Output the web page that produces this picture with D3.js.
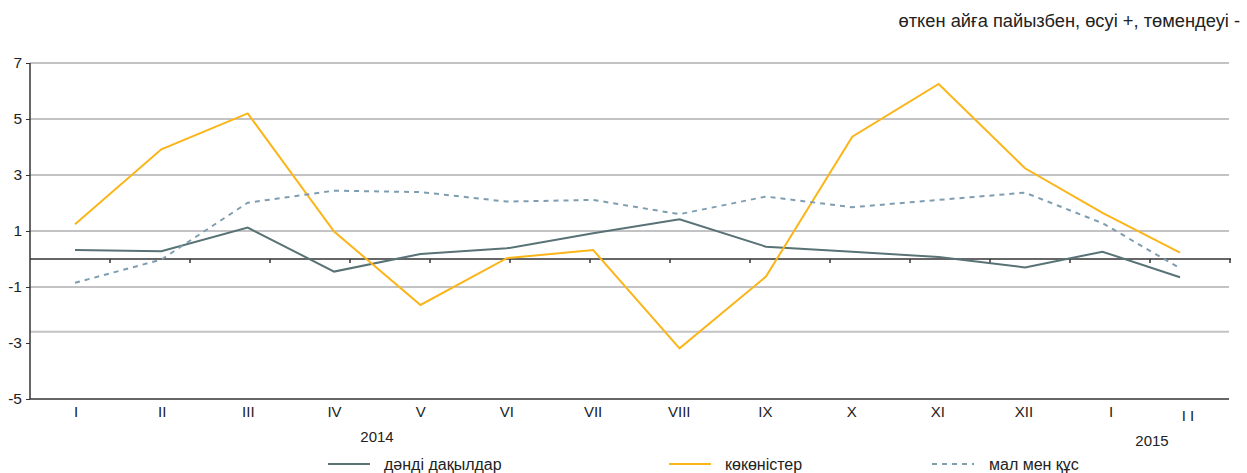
<!DOCTYPE html>
<html>
<head>
<meta charset="utf-8">
<script src="https://cdn.jsdelivr.net/npm/d3@7"></script>
<style>
  body { margin: 0; background: #fff; }
  svg { display: block; font-family: "Liberation Sans", Arial, sans-serif; }
</style>
</head>
<body>
<svg width="1247" height="473"></svg>
<script>
// months, 2014 I .. 2015 II
var months = ['I', 'II', 'III', 'IV', 'V', 'VI', 'VII', 'VIII', 'IX', 'X', 'XI', 'XII', 'I', 'II'];
var grain = [0.32, 0.28, 1.12, -0.45, 0.18, 0.38, 0.92, 1.42, 0.44, 0.26, 0.07, -0.30, 0.26, -0.65];
var veg = [1.24, 3.92, 5.20, 0.98, -1.64, 0.03, 0.32, -3.19, -0.63, 4.37, 6.25, 3.24, 1.65, 0.23];
var cattle = [-0.85, -0.02, 2.01, 2.44, 2.39, 2.05, 2.11, 1.60, 2.23, 1.85, 2.11, 2.37, 1.28, -0.33];
var yTicks = [7, 5, 3, 1, -1, -3, -5];
var gridValues = [7, 5, 3, 1, -1, -2.6];
var seriesNames = ['дәнді дақылдар', 'көкөністер', 'мал мен құс'];

var svg = d3.select('svg');
var left = 30, right = 1229;

var y = d3.scaleLinear().domain([-5, 7]).range([399, 63]);
// the 2015 months sit a little closer together in the source
var x = d3.scaleLinear().domain([0, 11, 13]).range([75, 1025, 1180]);
var xLabel = d3.scaleLinear().domain([0, 11, 12, 13]).range([76, 1024, 1111, 1190]);
var xTick = d3.scaleLinear().domain([0, 15]).range([left, 1230]);

// grid
svg.append('g').selectAll('line')
  .data(gridValues)
  .enter().append('line')
  .attr('x1', left).attr('x2', right)
  .attr('y1', function(d) { return y(d); })
  .attr('y2', function(d) { return y(d); })
  .style('stroke', '#c3c3c6')
  .style('stroke-width', 2);

// left axis
var yAxis = d3.axisLeft(y).tickValues(yTicks).tickSize(4).tickPadding(5)
  .tickFormat(function(d) { return String(d); });
var ga = svg.append('g').attr('transform', 'translate(' + left + ',0)').call(yAxis);
ga.select('.domain').remove();
ga.selectAll('line').style('stroke', '#333');
ga.selectAll('text').style('font-size', '15.5px').style('fill', '#222')
  .attr('x', -8);
svg.append('line').attr('x1', left).attr('x2', left).attr('y1', y(7)).attr('y2', y(-5))
  .style('stroke', '#333').style('stroke-width', 1.5);

// bottom line
svg.append('line').attr('x1', left).attr('x2', right).attr('y1', y(-5)).attr('y2', y(-5))
  .style('stroke', '#333').style('stroke-width', 1.5);

// zero line with ticks
svg.append('line').attr('x1', left).attr('x2', 1231).attr('y1', y(0)).attr('y2', y(0))
  .style('stroke', '#333').style('stroke-width', 1.5);
svg.append('g').selectAll('line')
  .data(d3.range(1, 16))
  .enter().append('line')
  .attr('x1', function(d) { return xTick(d); })
  .attr('x2', function(d) { return xTick(d); })
  .attr('y1', y(0)).attr('y2', y(0) + 4)
  .style('stroke', '#333').style('stroke-width', 1.5);

// month labels
svg.append('g').selectAll('text')
  .data(months)
  .enter().append('text')
  .attr('x', function(d, i) { return xLabel(i); })
  .attr('y', function(d, i) { return i == 13 ? 421 : 417; })
  .attr('text-anchor', 'middle')
  .style('font-size', '15px')
  .style('fill', '#222')
  .style('letter-spacing', function(d, i) { return i == 13 ? '4px' : '0px'; })
  .text(function(d) { return d; });

svg.append('text').attr('x', 377).attr('y', 442).attr('text-anchor', 'middle')
  .style('font-size', '15px').style('fill', '#222').text('2014');
svg.append('text').attr('x', 1152).attr('y', 446).attr('text-anchor', 'middle')
  .style('font-size', '15px').style('fill', '#222').text('2015');

// title
svg.append('text').attr('x', 1240).attr('y', 27).attr('text-anchor', 'end')
  .style('font-size', '18.3px').style('fill', '#222')
  .text('өткен айға пайызбен, өсуі +, төмендеуі -');

// lines
var line = d3.line()
  .x(function(d, i) { return x(i); })
  .y(function(d) { return y(d); });

var styles = [
  { data: grain, color: '#587276', dash: null },
  { data: veg, color: '#fbb519', dash: null },
  { data: cattle, color: '#7f9db0', dash: '5,5' }
];

svg.append('g').selectAll('path')
  .data(styles)
  .enter().append('path')
  .attr('d', function(d) { return line(d.data); })
  .style('fill', 'none')
  .style('stroke', function(d) { return d.color; })
  .style('stroke-width', 2)
  .style('stroke-dasharray', function(d) { return d.dash; });

// legend
var legendX = [328, 669, 932];
var lg = svg.append('g').selectAll('g')
  .data(styles)
  .enter().append('g')
  .attr('transform', function(d, i) { return 'translate(' + legendX[i] + ',464)'; });
lg.append('line')
  .attr('x1', 0).attr('x2', 42)
  .style('stroke', function(d) { return d.color; })
  .style('stroke-width', 2)
  .style('stroke-dasharray', function(d) { return d.dash; });
lg.append('text')
  .attr('x', function(d, i) { return i == 2 ? 57 : 56; })
  .attr('y', 6)
  .style('font-size', '16px')
  .style('fill', '#222')
  .text(function(d, i) { return seriesNames[i]; });
</script>
</body>
</html>
